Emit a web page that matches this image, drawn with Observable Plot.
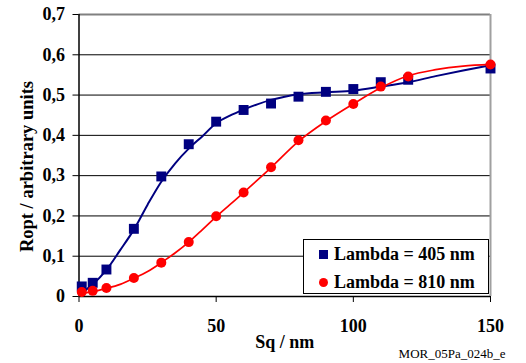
<!DOCTYPE html>
<html>
<head>
<meta charset="utf-8">
<script src="https://cdn.jsdelivr.net/npm/d3@7"></script>
<script src="https://cdn.jsdelivr.net/npm/@observablehq/plot@0.6"></script>
<style>
  html, body { margin: 0; padding: 0; background: #fff; }
  #wrap { position: relative; width: 526px; height: 363px; }
  #legend {
    position: absolute; left: 303px; top: 239px; width: 186px; height: 55px;
    border: 1px solid #000; background: #fff; box-sizing: border-box;
    font-family: 'Liberation Serif', serif; font-weight: bold; font-size: 18px;
  }
  .row { position: absolute; left: 0; height: 20px; line-height: 20px; white-space: nowrap; }
  .sw { position: absolute; }
  .lab { position: absolute; left: 30px; top: 0; }
</style>
</head>
<body>
<div id="wrap">
  <div id="chart"></div>
  <div id="legend"></div>
</div>
<script>
// ---- data ----
const sq = [1, 5, 10, 20, 30, 40, 50, 60, 70, 80, 90, 100, 110, 120, 150];
const ropt405 = [0.025, 0.034, 0.067, 0.168, 0.298, 0.378, 0.434, 0.463, 0.479, 0.496, 0.508, 0.515, 0.532, 0.538, 0.566];
const ropt810 = [0.011, 0.014, 0.021, 0.046, 0.084, 0.135, 0.199, 0.258, 0.321, 0.388, 0.437, 0.478, 0.521, 0.546, 0.576];

// fitted curves
const fit405X = [1, 5, 10, 15, 20, 25, 30, 35, 40, 45, 50, 55, 60, 65, 70, 75, 80, 90, 100, 110, 120, 130, 140, 150];
const fit405Y = [0.010, 0.030, 0.066, 0.115, 0.166, 0.228, 0.285, 0.330, 0.367, 0.398, 0.430, 0.449, 0.464, 0.477, 0.488, 0.496, 0.502, 0.507, 0.511, 0.521, 0.532, 0.547, 0.561, 0.574];
const fit810X = [1, 5, 10, 15, 20, 25, 30, 35, 40, 45, 50, 55, 60, 70, 80, 90, 100, 110, 120, 130, 140, 150];
const fit810Y = [0.008, 0.012, 0.020, 0.030, 0.045, 0.062, 0.084, 0.108, 0.135, 0.166, 0.198, 0.228, 0.258, 0.320, 0.385, 0.435, 0.478, 0.518, 0.548, 0.563, 0.572, 0.576];

const yTicks = [0, 0.1, 0.2, 0.3, 0.4, 0.5, 0.6, 0.7];
const xTicks = [0, 50, 100, 150];
const gridTicks = [0.1, 0.2, 0.3, 0.4, 0.5, 0.6];
const seriesNames = ["Lambda = 405 nm", "Lambda = 810 nm"];
const colors = ["#000080", "#ff0000"];
const xLabel = "Sq / nm";
const yLabel = "Ropt / arbitrary units";
const caption = "MOR_05Pa_024b_e";

const pts405 = sq.map((x, i) => ({x, y: ropt405[i]}));
const pts810 = sq.map((x, i) => ({x, y: ropt810[i]}));
const f405 = fit405X.map((x, i) => ({x, y: fit405Y[i]}));
const f810 = fit810X.map((x, i) => ({x, y: fit810Y[i]}));

const serif = "Liberation Serif";

const chart = Plot.plot({
  width: 526,
  height: 363,
  marginLeft: 78.5,
  marginRight: 36,
  marginTop: 14,
  marginBottom: 67,
  style: {fontFamily: serif, fontSize: "18px", fontWeight: "bold", background: "#fff", color: "#000"},
  x: {domain: [0, 150]},
  y: {domain: [0, 0.7]},
  marks: [
    Plot.ruleY(gridTicks, {stroke: "#000", strokeWidth: 1}),
    Plot.ruleY([0.7], {stroke: "#808080", strokeWidth: 2}),
    Plot.ruleX([150], {stroke: "#a0a0a0", strokeWidth: 2}),
    Plot.ruleX([0], {stroke: "#000", strokeWidth: 1.5}),
    Plot.ruleY([0], {stroke: "#000", strokeWidth: 1.5}),
    Plot.axisY({ticks: yTicks, tickSize: 6, tickPadding: 8, label: null, fontFamily: serif,
      tickFormat: d => d === 0 ? "0" : d.toFixed(1).replace(".", ","), stroke: "#000", strokeOpacity: 1}),
    Plot.axisX({ticks: xTicks, tickSize: 6, tickPadding: 17, label: null, fontFamily: serif, tickFormat: d => String(d), stroke: "#000", strokeOpacity: 1}),
    Plot.dot(pts405, {x: "x", y: "y", symbol: "square", r: 5.6, fill: colors[0], stroke: "none"}),
    Plot.line(f405, {x: "x", y: "y", stroke: colors[0], strokeWidth: 2, curve: "monotone-x"}),
    Plot.dot(pts810, {x: "x", y: "y", symbol: "circle", r: 5, fill: colors[1], stroke: "none"}),
    Plot.line(f810, {x: "x", y: "y", stroke: colors[1], strokeWidth: 1.7, curve: "monotone-x"}),
    Plot.text([xLabel], {frameAnchor: "bottom", textAnchor: "middle", lineAnchor: "middle", dy: 46, text: d => d, fontSize: 18, fontWeight: "bold", fontFamily: serif}),
    Plot.text([yLabel], {frameAnchor: "left", textAnchor: "middle", lineAnchor: "middle", rotate: -90, dx: -52, dy: 11, text: d => d, fontSize: 18.5, fontWeight: "bold", fontFamily: serif}),
    Plot.text([caption], {frameAnchor: "bottom-right", textAnchor: "end", lineAnchor: "middle", dx: 15, dy: 57, text: d => d, fontSize: 13, fontWeight: "normal", fontFamily: serif})
  ]
});
document.getElementById("chart").appendChild(chart);

// legend
const legend = document.getElementById("legend");
seriesNames.forEach((name, i) => {
  const row = document.createElement("div");
  row.className = "row";
  row.style.top = (i === 0 ? 4 : 32) + "px";
  row.style.width = "100%";
  const sw = document.createElement("div");
  sw.className = "sw";
  if (i === 0) {
    sw.style.cssText = `left:15px;top:6px;width:9px;height:9px;background:${colors[0]};`;
  } else {
    sw.style.cssText = `left:15px;top:6px;width:9px;height:9px;border-radius:50%;background:${colors[1]};`;
  }
  const lab = document.createElement("div");
  lab.className = "lab";
  lab.textContent = name;
  row.appendChild(sw);
  row.appendChild(lab);
  legend.appendChild(row);
});
</script>
</body>
</html>
